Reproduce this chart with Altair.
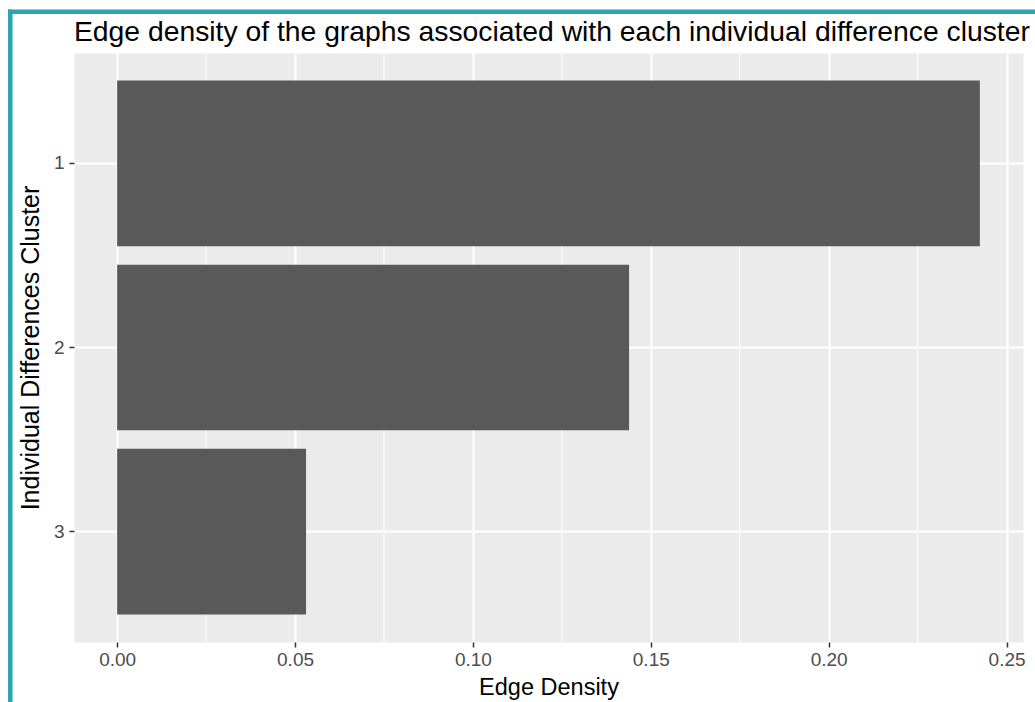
import altair as alt
import pandas as pd

# Edge density per individual-difference cluster
clusters = ["1", "2", "3"]
edge_density = [0.2425, 0.1439, 0.0531]

# Axis breaks
major_breaks = [0.0, 0.05, 0.10, 0.15, 0.20, 0.25]
minor_breaks = [0.025, 0.075, 0.125, 0.175, 0.225]

TITLE = "Edge density of the graphs associated with each individual difference cluster"
FONT = "Liberation Sans"
FRAME = "#2ca4b4"

bars_df = pd.DataFrame({"cluster": clusters, "density": edge_density})
minor_df = pd.DataFrame({"x": minor_breaks})
one_row = pd.DataFrame({"label": [TITLE]})

# ggplot-style 5% expansion on the continuous axis, 0.6-unit expansion on the discrete one
lo, hi = 0.0, max(edge_density)
pad = 0.05 * (hi - lo)
x_scale = alt.Scale(domain=[lo - pad, hi + pad], nice=False, zero=False)
y_scale = alt.Scale(domain=clusters, paddingInner=0.1, paddingOuter=0.15)

x_axis = alt.Axis(
    values=major_breaks,
    format=".2f",
    title="Edge Density",
    grid=True,
    gridColor="white",
    gridWidth=2,
    labelPadding=3,
    titlePadding=6,
    titleFontSize=23.5,
)
y_axis = alt.Axis(
    title="Individual Differences Cluster",
    grid=True,
    gridColor="white",
    gridWidth=2,
    bandPosition=0.5,
    labelPadding=5,
    titlePadding=10,
    titleFontSize=25,
)

minor_grid = alt.Chart(minor_df).mark_rule(color="white", strokeWidth=1).encode(
    x=alt.X("x:Q", scale=x_scale, axis=x_axis)
)

bars = alt.Chart(bars_df).mark_bar(color="#595959").encode(
    x=alt.X("density:Q", scale=x_scale, axis=x_axis),
    x2=alt.datum(0),
    y=alt.Y("cluster:N", scale=y_scale, sort=clusters, axis=y_axis),
)

# Plot title, left-aligned with the panel
title = alt.Chart(one_row).mark_text(
    font=FONT, fontSize=28.3, color="black", align="left", baseline="alphabetic"
).encode(x=alt.value(0), y=alt.value(-12), text="label:N")

# Teal frame along the top and left edges of the figure
frame_left = alt.Chart(one_row).mark_rect(color=FRAME).encode(
    x=alt.value(-66), x2=alt.value(-61.5), y=alt.value(-43.5), y2=alt.value(700)
)
frame_top = alt.Chart(one_row).mark_rect(color=FRAME).encode(
    x=alt.value(-66), x2=alt.value(970), y=alt.value(-43.5), y2=alt.value(-39)
)

chart = (
    alt.layer(minor_grid, bars, title, frame_left, frame_top)
    .properties(
        width=949,
        height=589,
        autosize=alt.AutoSizeParams(type="none"),
        padding={"left": 74, "top": 53, "right": 12, "bottom": 60},
        background="white",
    )
    .configure_view(fill="#EBEBEB", stroke="transparent")
    .configure_axis(
        domain=False,
        tickColor="#333333",
        tickWidth=1.5,
        tickSize=5,
        labelColor="#4D4D4D",
        labelFont=FONT,
        labelFontSize=19,
        titleFont=FONT,
        titleFontWeight="normal",
        titleColor="black",
    )
)

chart.save("out.html", embed_options={"renderer": "svg", "actions": False})
